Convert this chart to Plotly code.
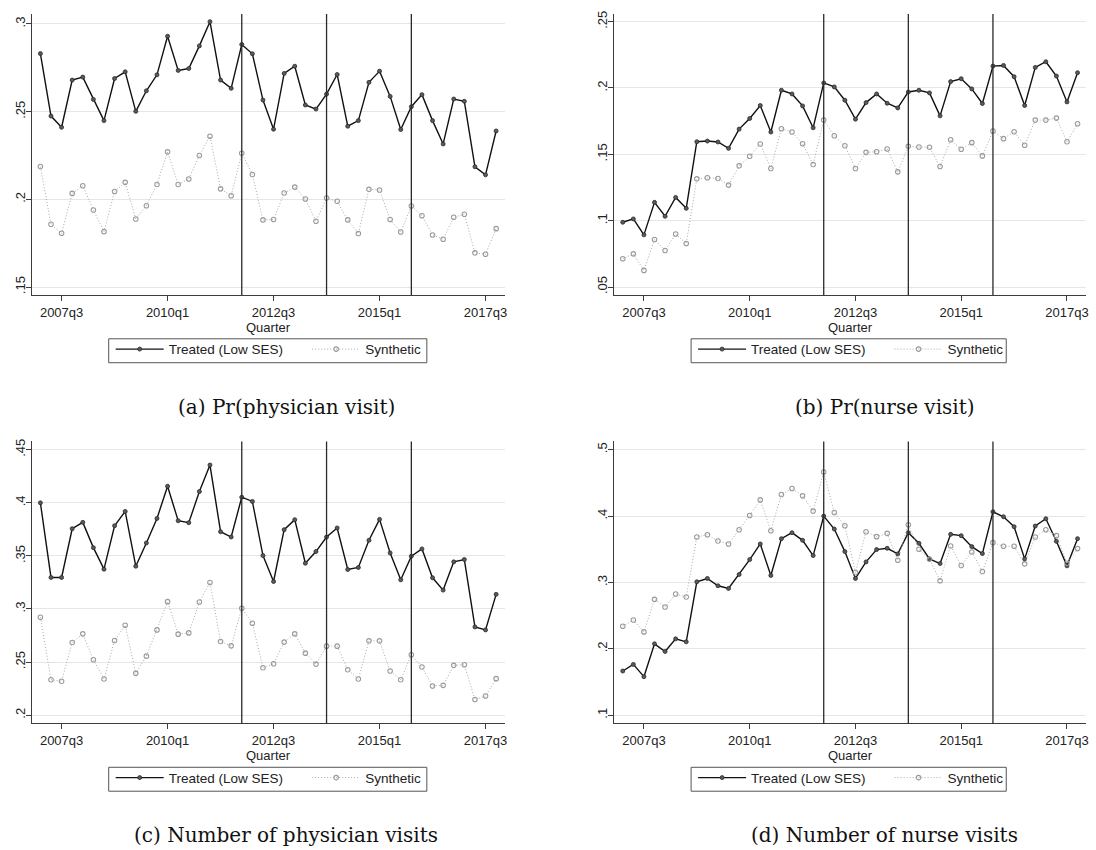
import plotly.graph_objects as go

# Quarterly periods 2007q1 .. 2017q4
years = list(range(2007, 2018))
quarters = [f"{y}q{q}" for y in years for q in range(1, 5)]
tick_labels = ["2007q3", "2010q1", "2012q3", "2015q1", "2017q3"]
event_quarters = ["2011q4", "2013q4", "2015q4"]

# (a) Pr(physician visit)
phys_pr_treated = [0.2831, 0.2475, 0.2411, 0.2680, 0.2697, 0.2570, 0.2449, 0.2689, 0.2727, 0.2502,
                   0.2619, 0.2710, 0.2930, 0.2735, 0.2746, 0.2875, 0.3013, 0.2680, 0.2633, 0.2883,
                   0.2830, 0.2566, 0.2400, 0.2718, 0.2759, 0.2538, 0.2515, 0.2600, 0.2712, 0.2417,
                   0.2449, 0.2667, 0.2731, 0.2587, 0.2398, 0.2528, 0.2597, 0.2449, 0.2316, 0.2572,
                   0.2559, 0.2186, 0.2140, 0.2390]
phys_pr_synth = [0.2187, 0.1858, 0.1807, 0.2034, 0.2078, 0.1939, 0.1816, 0.2045, 0.2097, 0.1888,
                 0.1964, 0.2085, 0.2271, 0.2085, 0.2116, 0.2250, 0.2360, 0.2060, 0.2021, 0.2263,
                 0.2142, 0.1883, 0.1885, 0.2036, 0.2070, 0.2002, 0.1875, 0.2008, 0.1989, 0.1883,
                 0.1805, 0.2057, 0.2053, 0.1885, 0.1814, 0.1962, 0.1907, 0.1797, 0.1773, 0.1898,
                 0.1915, 0.1695, 0.1687, 0.1833]

# (b) Pr(nurse visit)
nurse_pr_treated = [0.0988, 0.1013, 0.0893, 0.1138, 0.1033, 0.1175, 0.1093, 0.1595, 0.1600, 0.1593,
                    0.1545, 0.1690, 0.1770, 0.1868, 0.1668, 0.1983, 0.1955, 0.1865, 0.1700, 0.2038,
                    0.2008, 0.1908, 0.1765, 0.1890, 0.1955, 0.1885, 0.1850, 0.1970, 0.1983, 0.1963,
                    0.1790, 0.2048, 0.2070, 0.1993, 0.1883, 0.2165, 0.2170, 0.2085, 0.1868, 0.2155,
                    0.2198, 0.2090, 0.1895, 0.2115]
nurse_pr_synth = [0.0713, 0.0750, 0.0625, 0.0858, 0.0775, 0.0900, 0.0828, 0.1315, 0.1323, 0.1318,
                  0.1268, 0.1413, 0.1485, 0.1578, 0.1393, 0.1693, 0.1668, 0.1580, 0.1423, 0.1758,
                  0.1640, 0.1565, 0.1393, 0.1515, 0.1520, 0.1540, 0.1368, 0.1560, 0.1555, 0.1553,
                  0.1408, 0.1610, 0.1538, 0.1588, 0.1488, 0.1675, 0.1618, 0.1670, 0.1568, 0.1758,
                  0.1758, 0.1773, 0.1595, 0.1730]

# (c) Number of physician visits
phys_n_treated = [0.4000, 0.3297, 0.3297, 0.3756, 0.3816, 0.3578, 0.3375, 0.3784, 0.3919, 0.3403,
                  0.3622, 0.3853, 0.4156, 0.3831, 0.3813, 0.4106, 0.4356, 0.3728, 0.3678, 0.4053,
                  0.4013, 0.3503, 0.3259, 0.3747, 0.3841, 0.3431, 0.3541, 0.3678, 0.3763, 0.3372,
                  0.3391, 0.3647, 0.3844, 0.3528, 0.3275, 0.3497, 0.3566, 0.3294, 0.3178, 0.3444,
                  0.3466, 0.2831, 0.2803, 0.3138]
phys_n_synth = [0.2922, 0.2334, 0.2319, 0.2684, 0.2766, 0.2522, 0.2341, 0.2703, 0.2847, 0.2394,
                0.2556, 0.2803, 0.3069, 0.2763, 0.2775, 0.3066, 0.3250, 0.2694, 0.2653, 0.3006,
                0.2866, 0.2447, 0.2484, 0.2688, 0.2766, 0.2584, 0.2481, 0.2650, 0.2650, 0.2428,
                0.2341, 0.2700, 0.2700, 0.2416, 0.2334, 0.2569, 0.2453, 0.2275, 0.2281, 0.2469,
                0.2475, 0.2147, 0.2181, 0.2344]

# (d) Number of nurse visits
nurse_n_treated = [0.1665, 0.1765, 0.1580, 0.2075, 0.1960, 0.2150, 0.2105, 0.3010, 0.3060, 0.2950,
                   0.2910, 0.3120, 0.3345, 0.3580, 0.3105, 0.3660, 0.3750, 0.3635, 0.3405, 0.4000,
                   0.3805, 0.3465, 0.3060, 0.3310, 0.3495, 0.3515, 0.3430, 0.3750, 0.3590, 0.3355,
                   0.3285, 0.3725, 0.3705, 0.3540, 0.3435, 0.4065, 0.3990, 0.3840, 0.3355, 0.3850,
                   0.3960, 0.3620, 0.3250, 0.3660]
nurse_n_synth = [0.2340, 0.2435, 0.2255, 0.2745, 0.2630, 0.2825, 0.2780, 0.3685, 0.3720, 0.3625,
                 0.3580, 0.3795, 0.4010, 0.4245, 0.3780, 0.4325, 0.4415, 0.4305, 0.4075, 0.4665,
                 0.4055, 0.3855, 0.3150, 0.3765, 0.3690, 0.3740, 0.3335, 0.3870, 0.3500, 0.3350,
                 0.3025, 0.3550, 0.3255, 0.3460, 0.3165, 0.3600, 0.3545, 0.3545, 0.3280, 0.3685,
                 0.3795, 0.3705, 0.3290, 0.3510]

captions = ["(a) Pr(physician visit)", "(b) Pr(nurse visit)",
            "(c) Number of physician visits", "(d) Number of nurse visits"]
series_names = ["Treated (Low SES)", "Synthetic"]
x_title = "Quarter"

y_ticks = [
    ([0.15, 0.2, 0.25, 0.3], [".15", ".2", ".25", ".3"], [0.1455, 0.3057]),
    ([0.05, 0.1, 0.15, 0.2, 0.25], [".05", ".1", ".15", ".2", ".25"], [0.044, 0.2558]),
    ([0.2, 0.25, 0.3, 0.35, 0.4, 0.45], [".2", ".25", ".3", ".35", ".4", ".45"], [0.1922, 0.4578]),
    ([0.1, 0.2, 0.3, 0.4, 0.5], [".1", ".2", ".3", ".4", ".5"], [0.0875, 0.5125]),
]
panels = [
    (phys_pr_treated, phys_pr_synth),
    (nurse_pr_treated, nurse_pr_synth),
    (phys_n_treated, phys_n_synth),
    (nurse_n_treated, nurse_n_synth),
]

W, H = 1096, 850
# plot boxes in pixels: (left, right, top, bottom)
boxes = [(32, 506, 11, 293), (616, 1089, 11, 293),
         (32, 506, 440, 723), (616, 1089, 440, 723)]
# legend frames in pixels: (left, top, right, bottom)
legend_frames = [(109, 337, 428, 361), (693, 337, 1009, 361),
                 (109, 767, 428, 791), (693, 767, 1009, 791)]
caption_pos = [(287, 405), (887, 405), (287, 835), (887, 835)]

x = list(range(len(quarters)))
tickvals = [quarters.index(t) for t in tick_labels]
event_idx = [quarters.index(e) for e in event_quarters]

fig = go.Figure()
AX = "#3c3c3c"
FONT = "Liberation Sans, Arial, sans-serif"

for i, (treated, synth) in enumerate(panels):
    n = i + 1
    xa = "x" if n == 1 else f"x{n}"
    ya = "y" if n == 1 else f"y{n}"
    lg1 = "legend" if n == 1 else f"legend{2 * n - 1}"
    lg2 = f"legend{2 * n}"
    fig.add_trace(go.Scatter(
        x=x, y=treated, xaxis=xa, yaxis=ya, name=series_names[0], legend=lg1,
        mode="lines+markers", line=dict(color="#111111", width=1.4),
        marker=dict(symbol="circle", size=4, color="#5a5a5a", line=dict(color="#2a2a2a", width=0.8)),
    ))
    fig.add_trace(go.Scatter(
        x=x, y=synth, xaxis=xa, yaxis=ya, name=series_names[1], legend=lg2,
        mode="lines+markers", line=dict(color="#a8a8a8", width=1, dash="1px,2px"),
        marker=dict(symbol="circle-open", size=4.5, color="#9a9a9a", line=dict(width=1.1)),
    ))

    l, r, t, b = boxes[i]
    vals, texts, yr = y_ticks[i]
    xkey = "xaxis" if n == 1 else f"xaxis{n}"
    ykey = "yaxis" if n == 1 else f"yaxis{n}"
    fig.layout[xkey] = dict(
        domain=[l / W, r / W], anchor=ya, range=[-0.8, 43.8],
        tickvals=tickvals, ticktext=tick_labels, ticks="outside", ticklen=5,
        tickcolor=AX, showline=True, linecolor=AX, linewidth=1, showgrid=False,
        zeroline=False, tickfont=dict(family=FONT, size=13, color="#222"),
    )
    fig.layout[ykey] = dict(
        domain=[1 - b / H, 1 - t / H], anchor=xa, range=yr,
        tickvals=vals, ticktext=texts, ticks="outside", ticklen=5, tickangle=-90,
        ticklabelstandoff=-4,
        tickcolor=AX, showline=True, linecolor=AX, linewidth=1,
        showgrid=True, gridcolor="#e6e6e6", gridwidth=1, zeroline=False,
        tickfont=dict(family=FONT, size=13, color="#222"),
    )
    for e in event_idx:
        fig.add_shape(type="line", xref=xa, yref=f"{ya} domain", x0=e, x1=e, y0=0, y1=1,
                      line=dict(color="#2a2a2a", width=1.3))

    # axis title
    fig.add_annotation(text=x_title, xref="paper", yref="paper", x=(l + r) / 2 / W,
                       y=1 - (b + 24) / H, showarrow=False, xanchor="center", yanchor="top",
                       borderpad=0, font=dict(family=FONT, size=13, color="#222"))

    # legend frame plus the two keys inside it
    fl, ft, fr, fb = legend_frames[i]
    fig.add_shape(type="rect", xref="paper", yref="paper",
                  x0=fl / W, x1=fr / W, y0=1 - fb / H, y1=1 - ft / H,
                  line=dict(color="#555", width=1), fillcolor="rgba(0,0,0,0)")
    key_font = dict(family=FONT, size=13.5, color="#222")
    fig.layout[lg1] = dict(
        x=(fl + 2) / W, y=1 - (ft - 5) / H, xanchor="left", yanchor="top", orientation="h",
        borderwidth=0, bgcolor="rgba(0,0,0,0)", itemwidth=48, font=key_font,
    )
    fig.layout[lg2] = dict(
        x=(fl + 199) / W, y=1 - (ft - 5) / H, xanchor="left", yanchor="top", orientation="h",
        borderwidth=0, bgcolor="rgba(0,0,0,0)", itemwidth=48, font=key_font,
    )

    cx, cy = caption_pos[i]
    fig.add_annotation(text=captions[i], xref="paper", yref="paper", x=cx / W, y=1 - cy / H,
                       showarrow=False, xanchor="center", yanchor="middle",
                       font=dict(family="DejaVu Serif, serif", size=20, color="#111"))

fig.update_layout(width=W, height=H, margin=dict(l=0, r=0, t=0, b=0),
                  paper_bgcolor="white", plot_bgcolor="white", showlegend=True)
fig.write_html("out.html")
